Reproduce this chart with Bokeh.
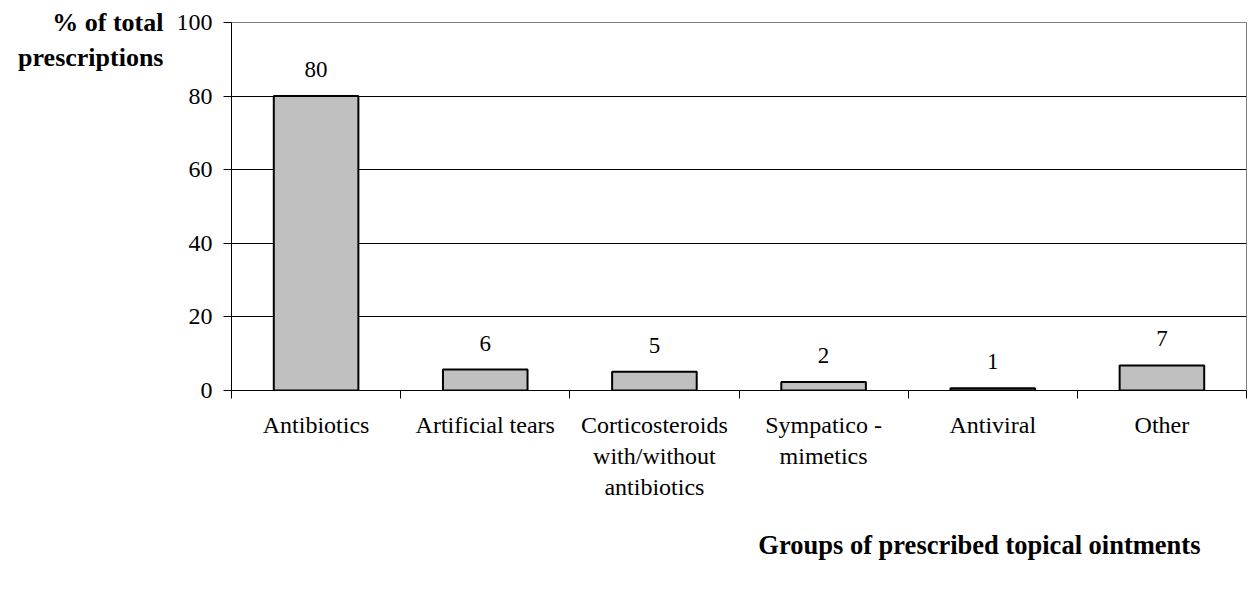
from bokeh.plotting import figure
from bokeh.models import Range1d, FixedTicker, ColumnDataSource, LabelSet, Title
from bokeh.embed import file_html
from bokeh.resources import INLINE

categories = ["Antibiotics", "Artificial tears", "Corticosteroids\nwith/without\nantibiotics",
              "Sympatico -\nmimetics", "Antiviral", "Other"]
values = [80.0, 5.7, 5.1, 2.3, 0.6, 6.8]
value_labels = ["80", "6", "5", "2", "1", "7"]
y_ticks = [0, 20, 40, 60, 80, 100]
y_title = "\n% of total\nprescriptions"
x_title = "Groups of prescribed topical ointments"

FONT = "Liberation Serif"

positions = [i + 0.5 for i in range(len(categories))]
bounds = list(range(len(categories) + 1))

W, H = 1249, 589
p = figure(width=W, height=H, output_backend="svg", toolbar_location=None,
           x_range=Range1d(0, len(categories)), y_range=Range1d(0, 100),
           min_border_left=231, min_border_right=3, min_border_top=22, min_border_bottom=199)

p.outline_line_color = "#808080"
p.outline_line_width = 1

src = ColumnDataSource(dict(x=positions, top=values, lab=value_labels))
p.vbar(x="x", top="top", bottom=0, width=0.5, source=src,
       fill_color="#c0c0c0", line_color="black", line_width=2)

labels = LabelSet(x="x", y="top", text="lab", source=src, x_offset=0, y_offset=19,
                  text_align="center", text_baseline="alphabetic",
                  text_font=FONT, text_font_size="23px", text_color="black")
p.add_layout(labels)

# x axis
xa = p.xaxis[0]
xa.ticker = FixedTicker(ticks=positions, minor_ticks=bounds)
xa.major_label_overrides = {pos: cat for pos, cat in zip(positions, categories)}
xa.major_tick_out = 0
xa.major_tick_in = 0
xa.minor_tick_out = 8
xa.minor_tick_in = 0
xa.minor_tick_line_color = "black"
xa.axis_line_color = "black"
xa.major_label_text_font = FONT
xa.major_label_text_font_size = "24px"
xa.major_label_text_color = "black"
xa.major_label_standoff = 13

# y axis
ya = p.yaxis[0]
ya.ticker = FixedTicker(ticks=y_ticks)
ya.major_tick_out = 8
ya.major_tick_in = 0
ya.minor_tick_out = 0
ya.minor_tick_in = 0
ya.axis_line_color = "black"
ya.major_tick_line_color = "black"
ya.major_label_text_font = FONT
ya.major_label_text_font_size = "24px"
ya.major_label_text_color = "black"
ya.major_label_standoff = 11
ya.axis_label = y_title
ya.axis_label_orientation = "horizontal"
ya.axis_label_standoff = 10
ya.axis_label_text_font = FONT
ya.axis_label_text_font_size = "26px"
ya.axis_label_text_font_style = "bold"
ya.axis_label_text_color = "black"
ya.axis_label_text_align = "center"
if "axis_label_align" in ya.properties():
    ya.axis_label_align = "end"

p.xgrid.visible = False
p.ygrid.grid_line_color = "black"
p.ygrid.grid_line_width = 1
p.ygrid.ticker = FixedTicker(ticks=y_ticks)

t = Title(text=x_title, align="right", offset=46, standoff=50,
          text_font=FONT, text_font_size="26.5px", text_font_style="bold", text_color="black")
p.add_layout(t, "below")

open("out.html", "w").write(file_html(p, INLINE))
